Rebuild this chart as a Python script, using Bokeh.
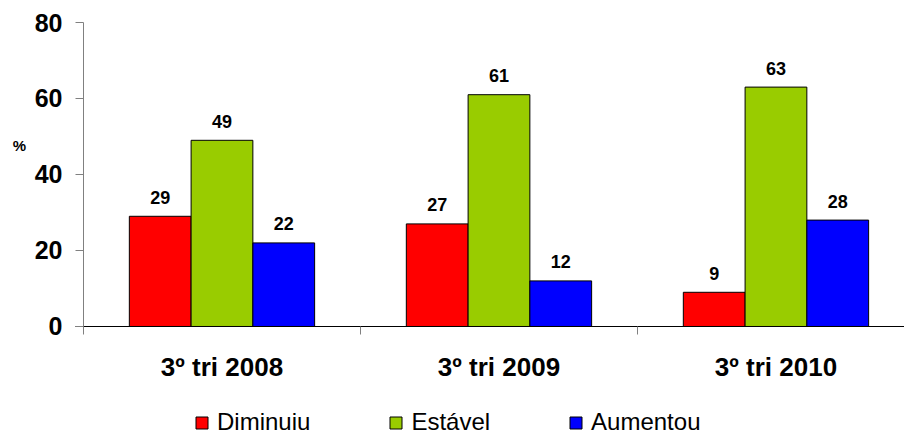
from bokeh.plotting import figure
from bokeh.models import (ColumnDataSource, Range1d, FixedTicker, Legend, LegendItem,
                          LabelSet, Label)
from bokeh.embed import file_html
from bokeh.resources import INLINE
from bokeh.core.properties import value

periods = ["3º tri 2008", "3º tri 2009", "3º tri 2010"]
series = ["Diminuiu", "Estável", "Aumentou"]
diminuiu = [29, 27, 9]
estavel = [49, 61, 63]
aumentou = [22, 12, 28]
colors = ["#FF0000", "#99CC00", "#0000FF"]
y_ticks = [0, 20, 40, 60, 80]
unit_label = "%"

values = [diminuiu, estavel, aumentou]
offsets = [-0.223, 0.0, 0.223]
bar_w = 0.223

p = figure(width=904, height=436, output_backend="svg", toolbar_location=None,
           x_range=Range1d(-0.2996, 2.964), y_range=Range1d(-28.95, 85.79),
           min_border_left=0, min_border_right=0, min_border_top=0, min_border_bottom=0)
p.outline_line_color = None
p.grid.visible = False
p.background_fill_color = "white"

FONT = "Liberation Sans"
items = []
for name, vals, off, col in zip(series, values, offsets, colors):
    src = ColumnDataSource(dict(x=[i + 0.5 + off for i in range(len(periods))],
                                top=vals, txt=[str(v) for v in vals]))
    r = p.vbar(x="x", top="top", width=bar_w, source=src, fill_color=col,
               line_color="black", line_width=1)
    items.append(LegendItem(label=name, renderers=[r]))
    lbl = LabelSet(x="x", y="top", text="txt", source=src, text_align="center",
                   text_baseline="middle", y_offset=19, text_font=value(FONT),
                   text_font_size=value("18px"), text_font_style=value("bold"),
                   text_color=value("black"))
    p.add_layout(lbl)

# x axis (fixed at y = 0)
xa = p.xaxis[0]
xa.fixed_location = 0
xa.bounds = (-0.03, 2.964)
xa.ticker = FixedTicker(ticks=[i + 0.5 for i in range(len(periods))],
                        minor_ticks=list(range(len(periods) + 1)))
xa.major_label_overrides = {i + 0.5: t for i, t in enumerate(periods)}
xa.major_tick_out = 0
xa.major_tick_in = 0
xa.minor_tick_out = 8
xa.minor_tick_in = 0
xa.minor_tick_line_color = "#808080"
xa.axis_line_color = "black"
xa.major_label_text_font = FONT
xa.major_label_text_font_size = "26px"
xa.major_label_text_font_style = "bold"
xa.major_label_text_color = "black"
xa.major_label_standoff = 18

# y axis (fixed at x = 0)
ya = p.yaxis[0]
ya.fixed_location = 0
ya.bounds = (0, 80)
ya.ticker = FixedTicker(ticks=y_ticks)
ya.axis_line_color = "#808080"
ya.major_tick_line_color = "#808080"
ya.major_tick_out = 8
ya.major_tick_in = 0
ya.minor_tick_line_color = None
ya.major_label_text_font = FONT
ya.major_label_text_font_size = "25px"
ya.major_label_text_font_style = "bold"
ya.major_label_text_color = "black"
ya.major_label_standoff = 13

p.add_layout(Label(x=-0.231, y=47.6, text=unit_label, text_align="center",
                   text_baseline="middle", text_font=FONT, text_font_size="15px",
                   text_font_style="bold", text_color="black"))

legend = Legend(items=items, orientation="horizontal", location=(194, 0),
                spacing=78, label_standoff=8, glyph_width=15, glyph_height=15,
                label_text_font=FONT, label_text_font_size="24px", label_text_color="black",
                border_line_color=None, background_fill_alpha=0, padding=0, margin=0)
p.add_layout(legend, "center")

open("out.html", "w").write(file_html(p, INLINE))
